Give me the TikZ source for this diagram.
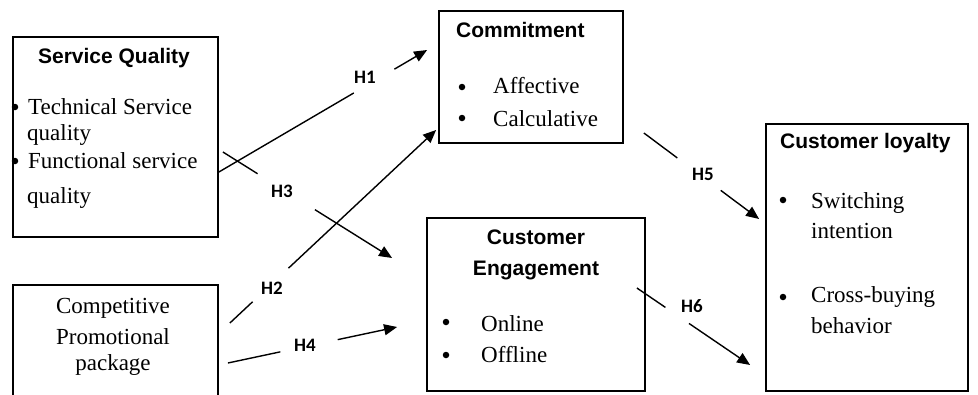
\documentclass[tikz,border=0pt]{standalone}
\usepackage{fontspec}
\setmainfont{Liberation Serif}
\newfontfamily\headfont{Liberation Sans}
\newfontfamily\hypfont{Carlito}
\usetikzlibrary{arrows.meta,calc}

\tikzset{
  box/.style={draw, line width=1.8pt, inner sep=0pt},
  head/.style={font=\headfont\bfseries\fontsize{21}{24}\selectfont, inner sep=0pt},
  body/.style={font=\fontsize{23}{27}\selectfont, inner sep=0pt},
  dot/.style={circle, fill, inner sep=0pt, minimum size=6.5pt},
  hlab/.style={font=\hypfont\bfseries\fontsize{19}{21}\selectfont, inner sep=0pt},
  link/.style={line width=1.4pt},
  arr/.style={link, -{Triangle[length=13pt,width=11pt]}},
}

\begin{document}
\begin{tikzpicture}[x=1pt,y=-1pt]
\useasboundingbox (0,0) rectangle (978,394);
\clip (0,0) rectangle (978,394);

% boxes
\node[box, minimum width=205pt, minimum height=200pt] (sq)  at (115.5,137) {};
\node[box, minimum width=205pt, minimum height=125pt] (cpp) at (115.5,347.5) {};
\node[box, minimum width=184pt, minimum height=132pt] (com) at (531,77) {};
\node[box, minimum width=218pt, minimum height=173pt] (eng) at (536,304.5) {};
\node[box, minimum width=202pt, minimum height=267pt] (loy) at (867,257.5) {};

% Service Quality
\node[head, anchor=base] (sqh) at (114,63) {Service Quality};
\node[dot] (sqb1) at (15,107) {};
\node[dot] (sqb2) at (15,161) {};
\node[body, anchor=base west] (sqt1) at (28,114) {Technical Service};
\node[body, anchor=base west] (sqt2) at (27,140) {quality};
\node[body, anchor=base west] (sqt3) at (28,168) {Functional service};
\node[body, anchor=base west] (sqt4) at (27,203) {quality};

% Competitive Promotional package
\node[body, anchor=base] (cp1) at (113,313) {Competitive};
\node[body, anchor=base] (cp2) at (113,344) {Promotional};
\node[body, anchor=base] (cp3) at (113,370) {package};

% Commitment
\node[head, anchor=base west] (comh) at (456,37) {Commitment};
\node[dot] (comb1) at (462,87) {};
\node[dot] (comb2) at (462,118) {};
\node[body, anchor=base west] (comt1) at (493,93) {Affective};
\node[body, anchor=base west] (comt2) at (493,126) {Calculative};

% Customer Engagement
\node[head, anchor=base] (engh1) at (536,244) {Customer};
\node[head, anchor=base] (engh2) at (536,275) {Engagement};
\node[dot] (engb1) at (446,322) {};
\node[dot] (engb2) at (446,355) {};
\node[body, anchor=base west] (engt1) at (481,331) {Online};
\node[body, anchor=base west] (engt2) at (481,362) {Offline};

% Customer loyalty
\node[head, anchor=base west] (loyh) at (780,148) {Customer loyalty};
\node[dot] (loyb1) at (783,200) {};
\node[dot] (loyb2) at (783,297) {};
\node[body, anchor=base west] (loyt1) at (811,208) {Switching};
\node[body, anchor=base west] (loyt2) at (811,238) {intention};
\node[body, anchor=base west] (loyt3) at (811,302) {Cross-buying};
\node[body, anchor=base west] (loyt4) at (811,333) {behavior};

% connector end points, relative to the boxes
\coordinate (h1s) at ($(sq.east)+(0,35)$);
\coordinate (h1e) at ($(com.west)+(-11,-27)$);
\coordinate (h3s) at ($(sq.east)+(4,15)$);
\coordinate (h3e) at ($(eng.west)+(-34,-46.5)$);
\coordinate (h2s) at ($(cpp.east)+(11,-24.5)$);
\coordinate (h2e) at ($(com.west)+(-2,53)$);
\coordinate (h4s) at ($(cpp.east)+(9,15.5)$);
\coordinate (h4e) at ($(eng.west)+(-29,22.5)$);
\coordinate (h5s) at ($(com.east)+(20,56)$);
\coordinate (h5e) at ($(loy.west)+(-6,-38.5)$);
\coordinate (h6s) at ($(eng.east)+(-9,-16.5)$);
\coordinate (h6e) at ($(loy.west)+(-15,107.5)$);

% hypothesis paths, broken where the label sits
\draw[link] (h1s) -- ($(h1s)!0.648!(h1e)$);
\draw[arr] ($(h1s)!0.843!(h1e)$) -- (h1e);
\node[hlab] (l1) at (365,77) {H1};

\draw[link] (h3s) -- ($(h3s)!0.205!(h3e)$);
\draw[arr] ($(h3s)!0.544!(h3e)$) -- (h3e);
\node[hlab] (l3) at (282,191) {H3};

\draw[link] (h2s) -- ($(h2s)!0.11!(h2e)$);
\draw[arr] ($(h2s)!0.284!(h2e)$) -- (h2e);
\node[hlab] (l2) at (272,288) {H2};

\draw[link] (h4s) -- ($(h4s)!0.31!(h4e)$);
\draw[arr] ($(h4s)!0.649!(h4e)$) -- (h4e);
\node[hlab] (l4) at (305,345) {H4};

\draw[link] (h5s) -- ($(h5s)!0.29!(h5e)$);
\draw[arr] ($(h5s)!0.667!(h5e)$) -- (h5e);
\node[hlab] (l5) at (703,174) {H5};

\draw[link] (h6s) -- ($(h6s)!0.252!(h6e)$);
\draw[arr] ($(h6s)!0.46!(h6e)$) -- (h6e);
\node[hlab] (l6) at (692,306) {H6};
\end{tikzpicture}
\end{document}
